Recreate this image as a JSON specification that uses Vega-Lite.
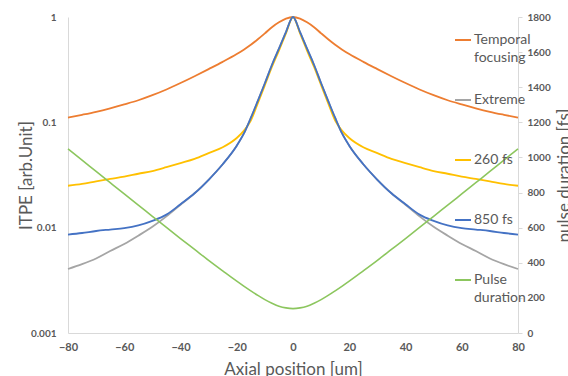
{
  "$schema": "https://vega.github.io/schema/vega-lite/v6.json",
  "width": 450,
  "height": 316,
  "autosize": {"type": "none"},
  "padding": {"left": 68, "top": 17, "right": 50, "bottom": 43},
  "background": "white",
  "config": {"view": {"stroke": null}, "font": "Lato"},
  "datasets": {
    "itpe": [
      {"x":-80,"s":"Temporal focusing","v":0.111},{"x":-75,"s":"Temporal focusing","v":0.118},{"x":-70,"s":"Temporal focusing","v":0.126},{"x":-65,"s":"Temporal focusing","v":0.136},{"x":-60,"s":"Temporal focusing","v":0.148},{"x":-55,"s":"Temporal focusing","v":0.162},{"x":-50,"s":"Temporal focusing","v":0.181},{"x":-45,"s":"Temporal focusing","v":0.205},{"x":-40,"s":"Temporal focusing","v":0.236},{"x":-35,"s":"Temporal focusing","v":0.274},{"x":-30,"s":"Temporal focusing","v":0.32},{"x":-25,"s":"Temporal focusing","v":0.375},{"x":-20,"s":"Temporal focusing","v":0.445},{"x":-17.5,"s":"Temporal focusing","v":0.49},{"x":-15,"s":"Temporal focusing","v":0.545},{"x":-12.5,"s":"Temporal focusing","v":0.615},{"x":-10,"s":"Temporal focusing","v":0.70},{"x":-7.5,"s":"Temporal focusing","v":0.80},{"x":-5,"s":"Temporal focusing","v":0.89},{"x":-2.5,"s":"Temporal focusing","v":0.965},{"x":0,"s":"Temporal focusing","v":1},{"x":2.5,"s":"Temporal focusing","v":0.965},{"x":5,"s":"Temporal focusing","v":0.89},{"x":7.5,"s":"Temporal focusing","v":0.80},{"x":10,"s":"Temporal focusing","v":0.70},{"x":12.5,"s":"Temporal focusing","v":0.615},{"x":15,"s":"Temporal focusing","v":0.545},{"x":17.5,"s":"Temporal focusing","v":0.49},{"x":20,"s":"Temporal focusing","v":0.445},{"x":25,"s":"Temporal focusing","v":0.375},{"x":30,"s":"Temporal focusing","v":0.32},{"x":35,"s":"Temporal focusing","v":0.274},{"x":40,"s":"Temporal focusing","v":0.236},{"x":45,"s":"Temporal focusing","v":0.205},{"x":50,"s":"Temporal focusing","v":0.181},{"x":55,"s":"Temporal focusing","v":0.162},{"x":60,"s":"Temporal focusing","v":0.148},{"x":65,"s":"Temporal focusing","v":0.136},{"x":70,"s":"Temporal focusing","v":0.126},{"x":75,"s":"Temporal focusing","v":0.118},{"x":80,"s":"Temporal focusing","v":0.111},
      {"x":-80,"s":"Extreme","v":0.00405},{"x":-75,"s":"Extreme","v":0.0045},{"x":-70,"s":"Extreme","v":0.0051},{"x":-65,"s":"Extreme","v":0.0060},{"x":-60,"s":"Extreme","v":0.0070},{"x":-55,"s":"Extreme","v":0.0084},{"x":-50,"s":"Extreme","v":0.0102},{"x":-45,"s":"Extreme","v":0.0128},{"x":-40,"s":"Extreme","v":0.0165},{"x":-35,"s":"Extreme","v":0.0212},{"x":-30,"s":"Extreme","v":0.0285},{"x":-25,"s":"Extreme","v":0.040},{"x":-20,"s":"Extreme","v":0.060},{"x":-17.5,"s":"Extreme","v":0.078},{"x":-15,"s":"Extreme","v":0.11},{"x":-12.5,"s":"Extreme","v":0.16},{"x":-10,"s":"Extreme","v":0.235},{"x":-7.5,"s":"Extreme","v":0.35},{"x":-5,"s":"Extreme","v":0.50},{"x":-2.5,"s":"Extreme","v":0.72},{"x":0,"s":"Extreme","v":1},{"x":2.5,"s":"Extreme","v":0.72},{"x":5,"s":"Extreme","v":0.50},{"x":7.5,"s":"Extreme","v":0.35},{"x":10,"s":"Extreme","v":0.235},{"x":12.5,"s":"Extreme","v":0.16},{"x":15,"s":"Extreme","v":0.11},{"x":17.5,"s":"Extreme","v":0.078},{"x":20,"s":"Extreme","v":0.060},{"x":25,"s":"Extreme","v":0.040},{"x":30,"s":"Extreme","v":0.0285},{"x":35,"s":"Extreme","v":0.0212},{"x":40,"s":"Extreme","v":0.0165},{"x":45,"s":"Extreme","v":0.0128},{"x":50,"s":"Extreme","v":0.0102},{"x":55,"s":"Extreme","v":0.0084},{"x":60,"s":"Extreme","v":0.0070},{"x":65,"s":"Extreme","v":0.0060},{"x":70,"s":"Extreme","v":0.0051},{"x":75,"s":"Extreme","v":0.0045},{"x":80,"s":"Extreme","v":0.00405},
      {"x":-80,"s":"260 fs","v":0.025},{"x":-75,"s":"260 fs","v":0.026},{"x":-70,"s":"260 fs","v":0.0275},{"x":-65,"s":"260 fs","v":0.029},{"x":-60,"s":"260 fs","v":0.0305},{"x":-55,"s":"260 fs","v":0.0325},{"x":-50,"s":"260 fs","v":0.0345},{"x":-45,"s":"260 fs","v":0.0375},{"x":-40,"s":"260 fs","v":0.041},{"x":-35,"s":"260 fs","v":0.045},{"x":-30,"s":"260 fs","v":0.051},{"x":-25,"s":"260 fs","v":0.058},{"x":-20,"s":"260 fs","v":0.071},{"x":-17.5,"s":"260 fs","v":0.083},{"x":-15,"s":"260 fs","v":0.104},{"x":-12.5,"s":"260 fs","v":0.152},{"x":-10,"s":"260 fs","v":0.225},{"x":-7.5,"s":"260 fs","v":0.335},{"x":-5,"s":"260 fs","v":0.48},{"x":-2.5,"s":"260 fs","v":0.70},{"x":0,"s":"260 fs","v":1},{"x":2.5,"s":"260 fs","v":0.70},{"x":5,"s":"260 fs","v":0.48},{"x":7.5,"s":"260 fs","v":0.335},{"x":10,"s":"260 fs","v":0.225},{"x":12.5,"s":"260 fs","v":0.152},{"x":15,"s":"260 fs","v":0.104},{"x":17.5,"s":"260 fs","v":0.083},{"x":20,"s":"260 fs","v":0.071},{"x":25,"s":"260 fs","v":0.058},{"x":30,"s":"260 fs","v":0.051},{"x":35,"s":"260 fs","v":0.045},{"x":40,"s":"260 fs","v":0.041},{"x":45,"s":"260 fs","v":0.0375},{"x":50,"s":"260 fs","v":0.0345},{"x":55,"s":"260 fs","v":0.0325},{"x":60,"s":"260 fs","v":0.0305},{"x":65,"s":"260 fs","v":0.029},{"x":70,"s":"260 fs","v":0.0275},{"x":75,"s":"260 fs","v":0.026},{"x":80,"s":"260 fs","v":0.025},
      {"x":-80,"s":"850 fs","v":0.0086},{"x":-75,"s":"850 fs","v":0.0089},{"x":-70,"s":"850 fs","v":0.0093},{"x":-65,"s":"850 fs","v":0.0096},{"x":-60,"s":"850 fs","v":0.0099},{"x":-55,"s":"850 fs","v":0.0105},{"x":-50,"s":"850 fs","v":0.0116},{"x":-45,"s":"850 fs","v":0.0133},{"x":-40,"s":"850 fs","v":0.0167},{"x":-35,"s":"850 fs","v":0.0212},{"x":-30,"s":"850 fs","v":0.0285},{"x":-25,"s":"850 fs","v":0.040},{"x":-20,"s":"850 fs","v":0.060},{"x":-17.5,"s":"850 fs","v":0.078},{"x":-15,"s":"850 fs","v":0.11},{"x":-12.5,"s":"850 fs","v":0.16},{"x":-10,"s":"850 fs","v":0.235},{"x":-7.5,"s":"850 fs","v":0.35},{"x":-5,"s":"850 fs","v":0.50},{"x":-2.5,"s":"850 fs","v":0.72},{"x":0,"s":"850 fs","v":1},{"x":2.5,"s":"850 fs","v":0.72},{"x":5,"s":"850 fs","v":0.50},{"x":7.5,"s":"850 fs","v":0.35},{"x":10,"s":"850 fs","v":0.235},{"x":12.5,"s":"850 fs","v":0.16},{"x":15,"s":"850 fs","v":0.11},{"x":17.5,"s":"850 fs","v":0.078},{"x":20,"s":"850 fs","v":0.060},{"x":25,"s":"850 fs","v":0.040},{"x":30,"s":"850 fs","v":0.0285},{"x":35,"s":"850 fs","v":0.0212},{"x":40,"s":"850 fs","v":0.0167},{"x":45,"s":"850 fs","v":0.0133},{"x":50,"s":"850 fs","v":0.0116},{"x":55,"s":"850 fs","v":0.0105},{"x":60,"s":"850 fs","v":0.0099},{"x":65,"s":"850 fs","v":0.0096},{"x":70,"s":"850 fs","v":0.0093},{"x":75,"s":"850 fs","v":0.0089},{"x":80,"s":"850 fs","v":0.0086}
    ],
    "pulse": [
      {"x":-80,"s":"Pulse duration","fs":1049},{"x":-75,"s":"Pulse duration","fs":985},{"x":-70,"s":"Pulse duration","fs":920},{"x":-65,"s":"Pulse duration","fs":856},{"x":-60,"s":"Pulse duration","fs":792},{"x":-55,"s":"Pulse duration","fs":728},{"x":-50,"s":"Pulse duration","fs":665},{"x":-45,"s":"Pulse duration","fs":601},{"x":-40,"s":"Pulse duration","fs":538},{"x":-35,"s":"Pulse duration","fs":476},{"x":-30,"s":"Pulse duration","fs":414},{"x":-25,"s":"Pulse duration","fs":354},{"x":-20,"s":"Pulse duration","fs":295},{"x":-17.5,"s":"Pulse duration","fs":267},{"x":-15,"s":"Pulse duration","fs":240},{"x":-12.5,"s":"Pulse duration","fs":214},{"x":-10,"s":"Pulse duration","fs":190},{"x":-7.5,"s":"Pulse duration","fs":170},{"x":-5,"s":"Pulse duration","fs":153},{"x":-2.5,"s":"Pulse duration","fs":143},{"x":0,"s":"Pulse duration","fs":139},{"x":2.5,"s":"Pulse duration","fs":143},{"x":5,"s":"Pulse duration","fs":153},{"x":7.5,"s":"Pulse duration","fs":170},{"x":10,"s":"Pulse duration","fs":190},{"x":12.5,"s":"Pulse duration","fs":214},{"x":15,"s":"Pulse duration","fs":240},{"x":17.5,"s":"Pulse duration","fs":267},{"x":20,"s":"Pulse duration","fs":295},{"x":25,"s":"Pulse duration","fs":354},{"x":30,"s":"Pulse duration","fs":414},{"x":35,"s":"Pulse duration","fs":476},{"x":40,"s":"Pulse duration","fs":538},{"x":45,"s":"Pulse duration","fs":601},{"x":50,"s":"Pulse duration","fs":665},{"x":55,"s":"Pulse duration","fs":728},{"x":60,"s":"Pulse duration","fs":792},{"x":65,"s":"Pulse duration","fs":856},{"x":70,"s":"Pulse duration","fs":920},{"x":75,"s":"Pulse duration","fs":985},{"x":80,"s":"Pulse duration","fs":1049}
    ]
  },
  "layer": [
    {
      "data": {"name": "itpe"},
      "mark": {"type": "line", "strokeWidth": 1.8, "interpolate": "monotone"},
      "encoding": {
        "x": {
          "field": "x", "type": "quantitative",
          "scale": {"domain": [-80, 80], "nice": false, "zero": false},
          "axis": {
            "values": [-80, -60, -40, -20, 0, 20, 40, 60, 80],
            "title": "Axial position [um]",
            "grid": false, "ticks": false, "labelFlush": false,
            "domainColor": "#d9d9d9", "domainWidth": 1,
            "labelFont": "Lato", "labelFontWeight": "bold", "labelFontSize": 11, "labelColor": "#595959",
            "labelPadding": 8,
            "titleFont": "Lato", "titleFontSize": 17, "titleFontWeight": "normal", "titleColor": "#595959",
            "titleY": 28, "titleBaseline": "top"
          }
        },
        "y": {
          "field": "v", "type": "quantitative",
          "scale": {"type": "log", "domain": [0.001, 1], "nice": false},
          "axis": {
            "values": [0.001, 0.01, 0.1, 1],
            "format": "~g",
            "title": "ITPE [arb.Unit]",
            "grid": false, "ticks": false, "labelFlush": false,
            "domainColor": "#d9d9d9", "domainWidth": 1,
            "labelFont": "Lato", "labelFontWeight": "bold", "labelFontSize": 10, "labelColor": "#595959",
            "labelPadding": 12,
            "titleFont": "Lato", "titleFontSize": 17, "titleFontWeight": "normal", "titleColor": "#595959",
            "titleX": -37, "titleY": 158, "titleAngle": -90, "titleAlign": "center", "titleBaseline": "alphabetic"
          }
        },
        "color": {
          "field": "s", "type": "nominal",
          "scale": {
            "domain": ["Temporal focusing", "Extreme", "260 fs", "850 fs", "Pulse duration"],
            "range": ["#ED7D31", "#A5A5A5", "#FFC000", "#4472C4", "#8CC65E"]
          },
          "legend": {
            "orient": "none", "legendX": 386, "legendY": 14,
            "title": null,
            "symbolType": "stroke", "symbolSize": 256, "symbolStrokeWidth": 2,
            "labelFont": "Lato", "labelFontSize": 14, "labelColor": "#595959", "labelOffset": 2, "labelLimit": 0,
            "labelExpr": "datum.value == 'Temporal focusing' ? ['Temporal', 'focusing'] : datum.value == 'Pulse duration' ? ['Pulse', 'duration'] : datum.label",
            "gridAlign": "all", "rowPadding": 26,
            "encode": {
              "labels": {"update": {"lineHeight": {"value": 17.5}}}
            }
          }
        }
      }
    },
    {
      "data": {"name": "pulse"},
      "mark": {"type": "line", "strokeWidth": 1.6, "interpolate": "monotone"},
      "encoding": {
        "x": {"field": "x", "type": "quantitative"},
        "y": {
          "field": "fs", "type": "quantitative",
          "scale": {"domain": [0, 1800], "nice": false},
          "axis": {
            "orient": "right",
            "values": [0, 200, 400, 600, 800, 1000, 1200, 1400, 1600, 1800],
            "format": "d",
            "title": "pulse duration [fs]",
            "grid": false, "ticks": true, "tickSize": 4, "tickColor": "#d9d9d9", "labelFlush": false,
            "domainColor": "#d9d9d9", "domainWidth": 1,
            "labelFont": "Lato", "labelFontWeight": "bold", "labelFontSize": 10, "labelColor": "#595959",
            "labelPadding": 5,
            "titleFont": "Lato", "titleFontSize": 17, "titleFontWeight": "normal", "titleColor": "#595959",
            "titleX": 51, "titleY": 158, "titleAngle": -90, "titleAlign": "center", "titleBaseline": "alphabetic"
          }
        },
        "color": {"field": "s", "type": "nominal"}
      }
    }
  ],
  "resolve": {"scale": {"y": "independent"}}
}
